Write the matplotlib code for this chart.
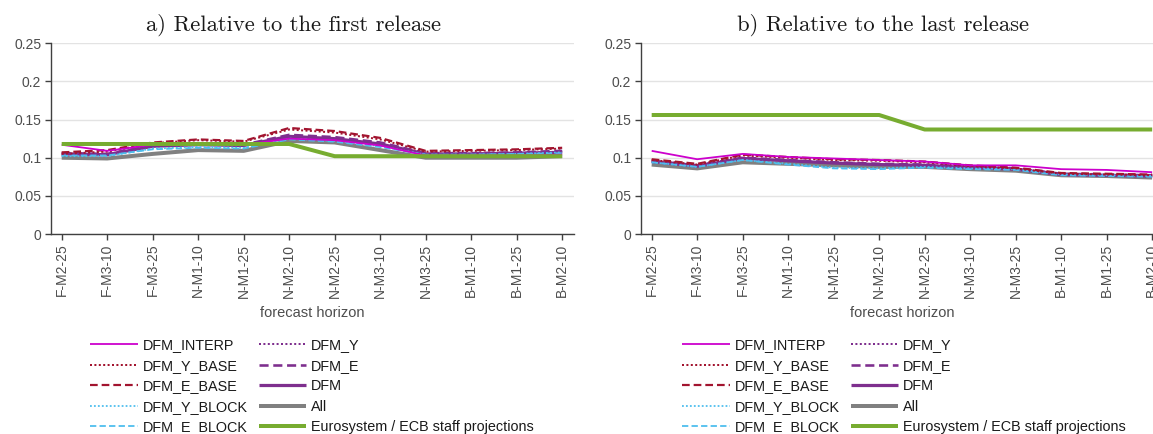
import matplotlib
matplotlib.use("Agg")
import matplotlib.pyplot as plt
import numpy as np

horizons = ["F-M2-25", "F-M3-10", "F-M3-25", "N-M1-10", "N-M1-25", "N-M2-10",
            "N-M2-25", "N-M3-10", "N-M3-25", "B-M1-10", "B-M1-25", "B-M2-10"]

# Panel a) relative to the first release
a_interp  = [0.117, 0.109, 0.117, 0.118, 0.117, 0.125, 0.123, 0.116, 0.103, 0.103, 0.103, 0.104]
a_y_base  = [0.105, 0.108, 0.119, 0.123, 0.121, 0.137, 0.133, 0.124, 0.108, 0.109, 0.110, 0.112]
a_e_base  = [0.107, 0.110, 0.120, 0.124, 0.122, 0.139, 0.135, 0.126, 0.109, 0.110, 0.111, 0.113]
a_y_block = [0.102, 0.102, 0.112, 0.114, 0.113, 0.125, 0.122, 0.115, 0.104, 0.104, 0.105, 0.107]
a_e_block = [0.103, 0.103, 0.111, 0.113, 0.112, 0.124, 0.121, 0.114, 0.104, 0.104, 0.105, 0.106]
a_y       = [0.104, 0.104, 0.115, 0.117, 0.116, 0.127, 0.124, 0.118, 0.104, 0.105, 0.106, 0.108]
a_e       = [0.106, 0.105, 0.116, 0.118, 0.117, 0.130, 0.127, 0.120, 0.106, 0.106, 0.107, 0.109]
a_dfm     = [0.105, 0.104, 0.115, 0.117, 0.116, 0.128, 0.125, 0.118, 0.105, 0.105, 0.106, 0.107]
a_all     = [0.100, 0.099, 0.105, 0.110, 0.109, 0.122, 0.120, 0.110, 0.100, 0.100, 0.100, 0.102]
a_euro    = [0.118, 0.118, 0.118, 0.118, 0.118, 0.118, 0.102, 0.102, 0.102, 0.102, 0.102, 0.102]

# Panel b) relative to the last release
b_interp  = [0.109, 0.098, 0.105, 0.101, 0.099, 0.097, 0.095, 0.090, 0.090, 0.085, 0.084, 0.081]
b_y_base  = [0.097, 0.091, 0.103, 0.100, 0.097, 0.096, 0.094, 0.089, 0.086, 0.079, 0.078, 0.077]
b_e_base  = [0.098, 0.092, 0.104, 0.101, 0.098, 0.097, 0.095, 0.090, 0.087, 0.080, 0.079, 0.078]
b_y_block = [0.094, 0.088, 0.097, 0.092, 0.087, 0.086, 0.088, 0.086, 0.085, 0.078, 0.077, 0.076]
b_e_block = [0.094, 0.088, 0.097, 0.091, 0.086, 0.085, 0.087, 0.085, 0.084, 0.077, 0.076, 0.075]
b_y       = [0.095, 0.089, 0.099, 0.096, 0.093, 0.091, 0.090, 0.087, 0.085, 0.078, 0.077, 0.076]
b_e       = [0.096, 0.090, 0.100, 0.097, 0.094, 0.092, 0.091, 0.088, 0.086, 0.079, 0.078, 0.077]
b_dfm     = [0.095, 0.089, 0.099, 0.096, 0.093, 0.091, 0.090, 0.087, 0.085, 0.078, 0.077, 0.076]
b_all     = [0.091, 0.086, 0.094, 0.092, 0.090, 0.088, 0.088, 0.085, 0.083, 0.077, 0.076, 0.074]
b_euro    = [0.156, 0.156, 0.156, 0.156, 0.156, 0.156, 0.137, 0.137, 0.137, 0.137, 0.137, 0.137]

labels = ["DFM_INTERP", "DFM_Y_BASE", "DFM_E_BASE", "DFM_Y_BLOCK", "DFM_E_BLOCK",
          "DFM_Y", "DFM_E", "DFM", "All", "Eurosystem / ECB staff projections"]

px = 0.72
styles = {
    "DFM_INTERP":  dict(color="#CC00CC", ls="-", lw=1.8 * px, z=9),
    "DFM_Y_BASE":  dict(color="#A2142F", ls=(0, (1, 1.2)), lw=2.0 * px, z=8),
    "DFM_E_BASE":  dict(color="#A2142F", ls=(0, (3.5, 1.8)), lw=2.2 * px, z=8),
    "DFM_Y_BLOCK": dict(color="#4DBEEE", ls=(0, (1, 1.2)), lw=1.8 * px, z=6),
    "DFM_E_BLOCK": dict(color="#4DBEEE", ls=(0, (3.5, 1.8)), lw=1.8 * px, z=6),
    "DFM_Y":       dict(color="#7E2F8E", ls=(0, (1, 1.2)), lw=2.0 * px, z=5),
    "DFM_E":       dict(color="#7E2F8E", ls=(0, (3.5, 1.8)), lw=2.6 * px, z=5),
    "DFM":         dict(color="#7E2F8E", ls="-", lw=3.2 * px, z=4),
    "All":         dict(color="#808080", ls="-", lw=4.0 * px, z=3),
    "Eurosystem / ECB staff projections": dict(color="#77AC30", ls="-", lw=4.0 * px, z=10),
}

panel_a = [a_interp, a_y_base, a_e_base, a_y_block, a_e_block, a_y, a_e, a_dfm, a_all, a_euro]
panel_b = [b_interp, b_y_base, b_e_base, b_y_block, b_e_block, b_y, b_e, b_dfm, b_all, b_euro]

plt.rcParams["font.family"] = ["Liberation Sans", "DejaVu Sans"]

W, H = 1153, 434
fig = plt.figure(figsize=(W / 100, H / 100), dpi=100)

ax_w = 523 / W
ax_b = 1 - 234 / H
ax_h = (234 - 43.3) / H
ax1 = fig.add_axes([51 / W, ax_b, ax_w, ax_h])
ax2 = fig.add_axes([641 / W, ax_b, ax_w, ax_h])

tick_col = "#4d4d4d"
spine_col = "#404040"
x = np.arange(1, len(horizons) + 1)

titles = ["a) Relative to the first release", "b) Relative to the last release"]
legend_x = [90, 682]

for ax, data, title, lx in zip([ax1, ax2], [panel_a, panel_b], titles, legend_x):
    handles = []
    for lab, vals in zip(labels, data):
        s = styles[lab]
        h, = ax.plot(x, vals, color=s["color"], ls=s["ls"], lw=s["lw"], zorder=s["z"],
                     label=lab, solid_capstyle="butt", dash_capstyle="butt")
        handles.append(h)
    ax.set_xlim(0.765, 12.26)
    ax.set_ylim(0, 0.25)
    ax.set_yticks([0, 0.05, 0.1, 0.15, 0.2, 0.25])
    ax.set_yticklabels(["0", "0.05", "0.1", "0.15", "0.2", "0.25"])
    ax.set_xticks(x)
    ax.set_xticklabels(horizons, rotation=90)
    ax.grid(axis="y", color="#e3e3e3", lw=1.4 * px, zorder=0)
    ax.set_axisbelow(True)
    for sp in ["top", "right"]:
        ax.spines[sp].set_visible(False)
    for sp in ["left", "bottom"]:
        ax.spines[sp].set_color(spine_col)
        ax.spines[sp].set_linewidth(1.0)
    ax.tick_params(axis="both", colors=spine_col, labelcolor=tick_col, labelsize=10,
                   length=4, width=1.0, direction="out")
    ax.tick_params(axis="y", pad=3)
    ax.tick_params(axis="x", pad=3)
    ax.set_xlabel("forecast horizon", fontsize=10.5, color=tick_col, labelpad=6)
    ax.set_title(title, fontfamily="cmr10", fontsize=16.3, color="#1a1a1a", pad=9,
                 x=0.463)
    fig.legend(handles=handles, labels=labels, loc="upper left",
               bbox_to_anchor=(lx / W, 1 - 338.5 / H), bbox_transform=fig.transFigure,
               ncol=2, frameon=False, fontsize=10.4, borderpad=0, borderaxespad=0,
               handlelength=3.3, handletextpad=0.35, columnspacing=0.75,
               labelspacing=0.44, labelcolor="#1a1a1a")

fig.savefig("out.png", dpi=100)
